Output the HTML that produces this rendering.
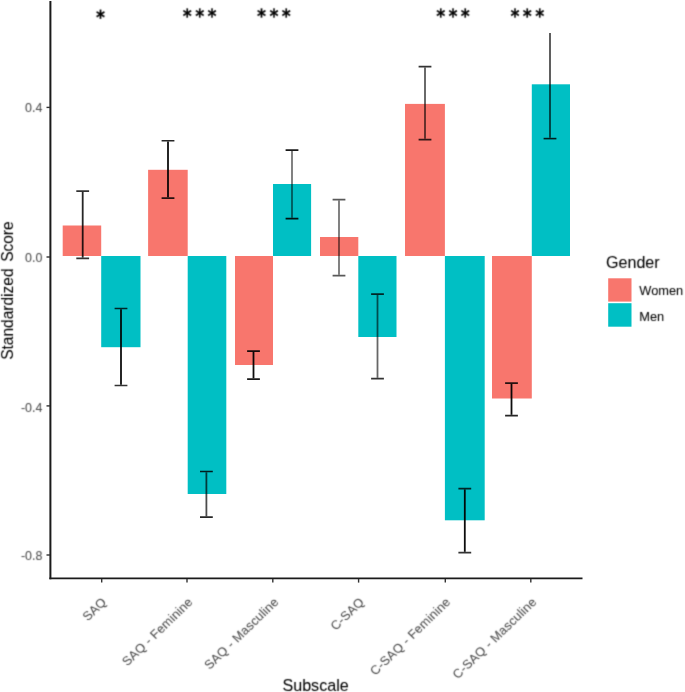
<!DOCTYPE html>
<html lang="en"><head><meta charset="utf-8"><title>Standardized Score by Subscale and Gender</title>
<style>html,body{margin:0;padding:0;background:#fff}body{width:685px;height:692px;overflow:hidden}svg{display:block}</style>
</head><body>
<svg width="685" height="692" viewBox="0 0 685 692" font-family="Liberation Sans, Arial, sans-serif">
<defs><filter id="soft" x="0" y="0" width="685" height="692" filterUnits="userSpaceOnUse" color-interpolation-filters="sRGB"><feConvolveMatrix order="3" kernelMatrix="1 4 1 4 16 4 1 4 1" divisor="36" edgeMode="none" preserveAlpha="false"/></filter></defs>
<rect width="685" height="692" fill="#fff"/>
<rect x="62.7" y="225.5" width="38.50" height="30.50" fill="#F8766D"/>
<rect x="101.2" y="256.0" width="39.30" height="91.20" fill="#00BFC4"/>
<rect x="148.1" y="169.8" width="39.60" height="86.20" fill="#F8766D"/>
<rect x="187.7" y="256.0" width="38.60" height="238.00" fill="#00BFC4"/>
<rect x="235" y="256.0" width="38.00" height="109.00" fill="#F8766D"/>
<rect x="273" y="184" width="38.10" height="72.00" fill="#00BFC4"/>
<rect x="320" y="237" width="38.30" height="19.00" fill="#F8766D"/>
<rect x="358.3" y="256.0" width="38.20" height="81.00" fill="#00BFC4"/>
<rect x="405" y="103.9" width="39.90" height="152.10" fill="#F8766D"/>
<rect x="444.9" y="256.0" width="39.80" height="264.30" fill="#00BFC4"/>
<rect x="492" y="256.0" width="39.80" height="142.50" fill="#F8766D"/>
<rect x="531.8" y="84.3" width="38.20" height="171.70" fill="#00BFC4"/>
<path d="M82.7 191.9V257.6" stroke="#000" stroke-opacity="0.85" stroke-width="1.8" fill="none"/>
<path d="M76.3 191.1H89.10000000000001M76.3 258.4H89.10000000000001" stroke="#000" stroke-opacity="0.8" stroke-width="1.6" fill="none"/>
<path d="M121 309.3V384.7" stroke="#000" stroke-opacity="0.95" stroke-width="1.8" fill="none"/>
<path d="M114.6 308.5H127.4M114.6 385.5H127.4" stroke="#000" stroke-opacity="0.8" stroke-width="1.6" fill="none"/>
<path d="M168 141.5V197.3" stroke="#000" stroke-opacity="0.95" stroke-width="1.8" fill="none"/>
<path d="M161.6 140.7H174.4M161.6 198.1H174.4" stroke="#000" stroke-opacity="0.85" stroke-width="1.6" fill="none"/>
<path d="M206.4 472.3V516.3" stroke="#000" stroke-opacity="0.7" stroke-width="1.8" fill="none"/>
<path d="M200.0 471.5H212.8M200.0 517.1H212.8" stroke="#000" stroke-opacity="0.85" stroke-width="1.6" fill="none"/>
<path d="M253.5 351.9V378.3" stroke="#000" stroke-opacity="0.95" stroke-width="1.8" fill="none"/>
<path d="M247.1 351.1H259.9M247.1 379.1H259.9" stroke="#000" stroke-opacity="0.9" stroke-width="1.6" fill="none"/>
<path d="M292 150.9V217.8" stroke="#000" stroke-opacity="0.55" stroke-width="1.8" fill="none"/>
<path d="M285.6 150.1H298.4M285.6 218.6H298.4" stroke="#000" stroke-opacity="0.9" stroke-width="1.6" fill="none"/>
<path d="M339 200.4V274.8" stroke="#000" stroke-opacity="0.55" stroke-width="1.8" fill="none"/>
<path d="M332.6 199.6H345.4M332.6 275.6H345.4" stroke="#000" stroke-opacity="0.65" stroke-width="1.6" fill="none"/>
<path d="M377.5 294.9V377.8" stroke="#000" stroke-opacity="0.6" stroke-width="1.8" fill="none"/>
<path d="M371.1 294.1H383.9M371.1 378.6H383.9" stroke="#000" stroke-opacity="0.8" stroke-width="1.6" fill="none"/>
<path d="M425 67.4V138.8" stroke="#000" stroke-opacity="0.65" stroke-width="1.8" fill="none"/>
<path d="M418.6 66.6H431.4M418.6 139.6H431.4" stroke="#000" stroke-opacity="0.8" stroke-width="1.6" fill="none"/>
<path d="M464.8 489.4V551.8" stroke="#000" stroke-opacity="0.95" stroke-width="1.8" fill="none"/>
<path d="M458.40000000000003 488.6H471.2M458.40000000000003 552.6H471.2" stroke="#000" stroke-opacity="0.8" stroke-width="1.6" fill="none"/>
<path d="M511.5 383.9V414.8" stroke="#000" stroke-opacity="0.95" stroke-width="1.8" fill="none"/>
<path d="M505.1 383.1H517.9M505.1 415.6H517.9" stroke="#000" stroke-opacity="0.85" stroke-width="1.6" fill="none"/>
<path d="M550 33.0V137.8" stroke="#000" stroke-opacity="0.7" stroke-width="1.8" fill="none"/>
<path d="M543.6 138.6H556.4" stroke="#000" stroke-opacity="0.85" stroke-width="1.6" fill="none"/>
<path d="M50.4 1V579.2" stroke="#1a1a1a" stroke-width="2" fill="none"/>
<path d="M49.4 578.35H582.5" stroke="#1a1a1a" stroke-width="1.7" fill="none"/>
<path d="M101.7 579V582.6" stroke="#333" stroke-width="1.4"/>
<path d="M187.0 579V582.6" stroke="#333" stroke-width="1.4"/>
<path d="M272.8 579V582.6" stroke="#333" stroke-width="1.4"/>
<path d="M358.6 579V582.6" stroke="#333" stroke-width="1.4"/>
<path d="M445.3 579V582.6" stroke="#333" stroke-width="1.4"/>
<path d="M530.8 579V582.6" stroke="#333" stroke-width="1.4"/>
<path d="M46.5 107.4H50" stroke="#333" stroke-width="1.4"/>
<path d="M46.5 257.0H50" stroke="#333" stroke-width="1.4"/>
<path d="M46.5 405.9H50" stroke="#333" stroke-width="1.4"/>
<path d="M46.5 555.0H50" stroke="#333" stroke-width="1.4"/>
<rect x="608.2" y="278.3" width="23.3" height="23.3" fill="#F8766D"/>
<rect x="608.2" y="303.2" width="23.3" height="23.5" fill="#00BFC4"/>
<g filter="url(#soft)" stroke-width="0.06" stroke-linejoin="round">
<text x="42.4" y="112" font-size="12.45" fill="#4d4d4d" stroke="#4d4d4d" text-anchor="end">0.4</text>
<text x="42.4" y="262" font-size="12.45" fill="#4d4d4d" stroke="#4d4d4d" text-anchor="end">0.0</text>
<text x="42.4" y="412" font-size="12.45" fill="#4d4d4d" stroke="#4d4d4d" text-anchor="end">-0.4</text>
<text x="42.4" y="560" font-size="12.45" fill="#4d4d4d" stroke="#4d4d4d" text-anchor="end">-0.8</text>
<text transform="translate(107.3,602.8) scale(1.006,0.97) rotate(-45)" font-size="12.8" fill="#4d4d4d" stroke="#4d4d4d" text-anchor="end" letter-spacing="0.15">SAQ</text>
<text transform="translate(193.5,602.8) scale(1.006,0.97) rotate(-45)" font-size="12.8" fill="#4d4d4d" stroke="#4d4d4d" text-anchor="end" letter-spacing="0.15">SAQ - Feminine</text>
<text transform="translate(279.3,602.8) scale(1.006,0.97) rotate(-45)" font-size="12.8" fill="#4d4d4d" stroke="#4d4d4d" text-anchor="end" letter-spacing="0.15">SAQ - Masculine</text>
<text transform="translate(365.0,602.8) scale(1.006,0.97) rotate(-45)" font-size="12.8" fill="#4d4d4d" stroke="#4d4d4d" text-anchor="end" letter-spacing="0.15">C-SAQ</text>
<text transform="translate(451.2,602.8) scale(1.006,0.97) rotate(-45)" font-size="12.8" fill="#4d4d4d" stroke="#4d4d4d" text-anchor="end" letter-spacing="0.15">C-SAQ - Feminine</text>
<text transform="translate(537.3,602.8) scale(1.006,0.97) rotate(-45)" font-size="12.8" fill="#4d4d4d" stroke="#4d4d4d" text-anchor="end" letter-spacing="0.15">C-SAQ - Masculine</text>
<text transform="translate(100.4,24.4) scale(0.87,1) rotate(0.3)" font-size="19.6" font-family="DejaVu Sans, sans-serif" font-weight="bold" fill="#000" stroke="#000" stroke-width="0.25" text-anchor="middle">*</text>
<text transform="translate(187.3,23.0) scale(0.87,1) rotate(0.3)" font-size="19.6" font-family="DejaVu Sans, sans-serif" font-weight="bold" fill="#000" stroke="#000" stroke-width="0.25" text-anchor="middle">*</text>
<text transform="translate(199.7,23.0) scale(0.87,1) rotate(0.3)" font-size="19.6" font-family="DejaVu Sans, sans-serif" font-weight="bold" fill="#000" stroke="#000" stroke-width="0.25" text-anchor="middle">*</text>
<text transform="translate(212,23.0) scale(0.87,1) rotate(0.3)" font-size="19.6" font-family="DejaVu Sans, sans-serif" font-weight="bold" fill="#000" stroke="#000" stroke-width="0.25" text-anchor="middle">*</text>
<text transform="translate(261.5,23.0) scale(0.87,1) rotate(0.3)" font-size="19.6" font-family="DejaVu Sans, sans-serif" font-weight="bold" fill="#000" stroke="#000" stroke-width="0.25" text-anchor="middle">*</text>
<text transform="translate(273.9,23.0) scale(0.87,1) rotate(0.3)" font-size="19.6" font-family="DejaVu Sans, sans-serif" font-weight="bold" fill="#000" stroke="#000" stroke-width="0.25" text-anchor="middle">*</text>
<text transform="translate(286.2,23.0) scale(0.87,1) rotate(0.3)" font-size="19.6" font-family="DejaVu Sans, sans-serif" font-weight="bold" fill="#000" stroke="#000" stroke-width="0.25" text-anchor="middle">*</text>
<text transform="translate(440.6,23.0) scale(0.87,1) rotate(0.3)" font-size="19.6" font-family="DejaVu Sans, sans-serif" font-weight="bold" fill="#000" stroke="#000" stroke-width="0.25" text-anchor="middle">*</text>
<text transform="translate(452.9,23.0) scale(0.87,1) rotate(0.3)" font-size="19.6" font-family="DejaVu Sans, sans-serif" font-weight="bold" fill="#000" stroke="#000" stroke-width="0.25" text-anchor="middle">*</text>
<text transform="translate(465.3,23.0) scale(0.87,1) rotate(0.3)" font-size="19.6" font-family="DejaVu Sans, sans-serif" font-weight="bold" fill="#000" stroke="#000" stroke-width="0.25" text-anchor="middle">*</text>
<text transform="translate(514.9,23.0) scale(0.87,1) rotate(0.3)" font-size="19.6" font-family="DejaVu Sans, sans-serif" font-weight="bold" fill="#000" stroke="#000" stroke-width="0.25" text-anchor="middle">*</text>
<text transform="translate(527.2,23.0) scale(0.87,1) rotate(0.3)" font-size="19.6" font-family="DejaVu Sans, sans-serif" font-weight="bold" fill="#000" stroke="#000" stroke-width="0.25" text-anchor="middle">*</text>
<text transform="translate(539.6,23.0) scale(0.87,1) rotate(0.3)" font-size="19.6" font-family="DejaVu Sans, sans-serif" font-weight="bold" fill="#000" stroke="#000" stroke-width="0.25" text-anchor="middle">*</text>
<text x="315.6" y="691" font-size="16.1" fill="#000" stroke="#000" text-anchor="middle">Subscale</text>
<text transform="translate(13.3,290.6) scale(1.006,0.97) rotate(-90)" font-size="16.0" fill="#000" stroke="#000" text-anchor="middle" word-spacing="2.4">Standardized Score</text>
<text x="606" y="268" font-size="16.1" fill="#000" stroke="#000" text-anchor="start">Gender</text>
<text x="639.3" y="295" font-size="12.8" fill="#000" stroke="#000" text-anchor="start">Women</text>
<text x="639.3" y="321" font-size="12.8" fill="#000" stroke="#000" text-anchor="start">Men</text>
</g>
</svg>
</body></html>
